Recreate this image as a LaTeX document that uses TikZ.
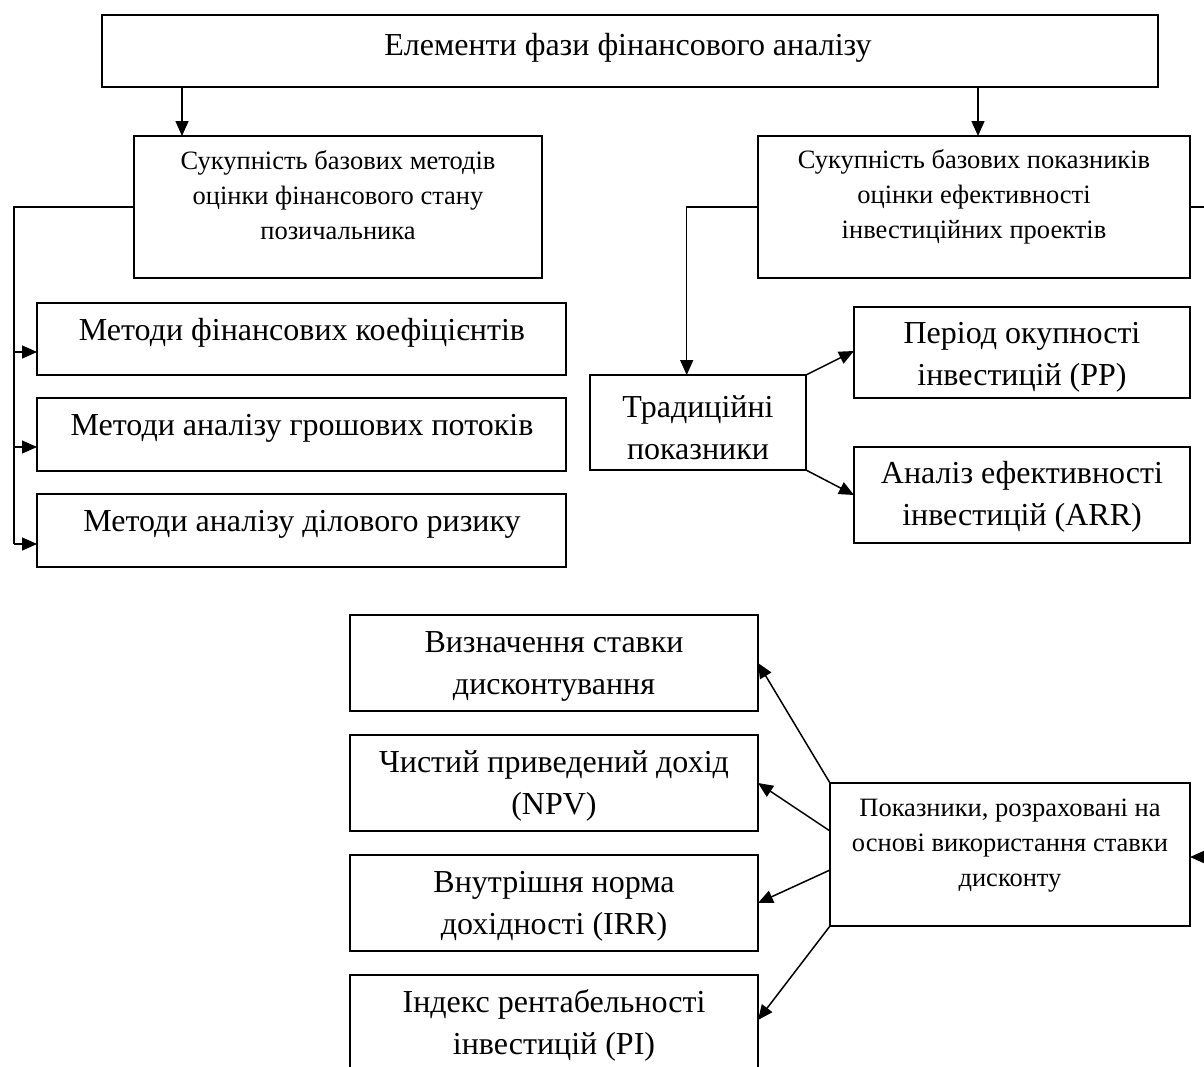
\documentclass[tikz,border=0pt]{standalone}
\usepackage{fontspec}
\setmainfont{Liberation Serif}
\usetikzlibrary{arrows.meta}
\begin{document}
\begin{tikzpicture}[x=1pt,y=-1pt,line width=1.5pt,
  rect/.style={draw, inner sep=0pt, outer sep=0pt},
  big/.style={align=center, inner sep=0pt, font=\fontsize{32}{42}\selectfont},
  small/.style={align=center, inner sep=0pt, font=\fontsize{26.5}{35}\selectfont},
  arr/.style={-{Triangle[length=15pt,width=13pt]}}]
\useasboundingbox (0,0) rectangle (1204,1066);
% boxes
\node[rect, minimum width=1056pt, minimum height=72pt] (top) at (630,51) {};
\node[big] (topt) at (628,48) {Елементи фази фінансового аналізу};
\node[rect, minimum width=408pt, minimum height=142pt] (A) at (338,207) {};
\node[small] (At) at (338,195) {Сукупність базових методів\\оцінки фінансового стану\\позичальника};
\node[rect, minimum width=432pt, minimum height=142pt] (B) at (974,207) {};
\node[small] (Bt) at (974,197) {Сукупність базових показників\\оцінки ефективності\\інвестиційних проектів};
\node[rect, minimum width=529pt, minimum height=72pt] (m1) at (301.5,339) {};
\node[big] (m1t) at (302,333) {Методи фінансових коефіцієнтів};
\node[rect, minimum width=529pt, minimum height=73pt] (m2) at (301.5,434.5) {};
\node[big] (m2t) at (302,428) {Методи аналізу грошових потоків};
\node[rect, minimum width=529pt, minimum height=73pt] (m3) at (301.5,530.5) {};
\node[big] (m3t) at (302,524) {Методи аналізу ділового ризику};
\node[rect, minimum width=216pt, minimum height=95pt] (tr) at (698,422.5) {};
\node[big] (trt) at (698,428) {Традиційні\\показники};
\node[rect, minimum width=336pt, minimum height=91pt] (pp) at (1022,352.5) {};
\node[big] (ppt) at (1022,357) {Період окупності\\інвестицій (PP)};
\node[rect, minimum width=336pt, minimum height=96pt] (arr) at (1022,495) {};
\node[big] (arrt) at (1022,497) {Аналіз ефективності\\інвестицій (ARR)};
\node[rect, minimum width=360pt, minimum height=143pt] (disc) at (1010,854.5) {};
\node[small] (disct) at (1010,846) {Показники, розраховані на\\основі використання ставки\\дисконту};
\node[rect, minimum width=408pt, minimum height=96pt] (d1) at (554,663) {};
\node[big] (d1t) at (554,666) {Визначення ставки\\дисконтування};
\node[rect, minimum width=408pt, minimum height=96pt] (d2) at (554,783) {};
\node[big] (d2t) at (554,786) {Чистий приведений дохід\\(NPV)};
\node[rect, minimum width=408pt, minimum height=96pt] (d3) at (554,903) {};
\node[big] (d3t) at (554,906) {Внутрішня норма\\дохідності (IRR)};
\node[rect, minimum width=408pt, minimum height=96pt] (d4) at (554,1023) {};
\node[big] (d4t) at (554,1025) {Індекс рентабельності\\інвестицій (PI)};
% helper coordinates
\coordinate (xa) at (182,0);
\coordinate (xb) at (978,0);
\coordinate (xl) at (14,0);
\coordinate (xt) at (686.7,0);
\coordinate (xr) at (1215,0);
% connectors
\draw[arr] (top.south -| xa) -- (A.north -| xa);
\draw[arr] (top.south -| xb) -- (B.north -| xb);
\draw (A.west) -- (A.west -| xl) -- ([yshift=-13pt]m3.west -| xl);
\draw[arr] ([yshift=-13pt]m1.west -| xl) -- ([yshift=-13pt]m1.west);
\draw[arr] ([yshift=-12.5pt]m2.west -| xl) -- ([yshift=-12.5pt]m2.west);
\draw[arr] ([yshift=-13.5pt]m3.west -| xl) -- ([yshift=-13.5pt]m3.west);
\draw[arr] (B.west) -- (B.west -| xt) -- (tr.north -| xt);
\draw[arr] (tr.north east) -- ([yshift=1.5pt]pp.west);
\draw[arr] (tr.south east) -- (arr.west);
\draw[arr] (B.east) -- (B.east -| xr) -- ([yshift=-2.5pt]disc.east -| xr) -- ([yshift=-2.5pt]disc.east);
\draw[arr] (disc.north west) -- (d1.east);
\draw[arr] ([yshift=23.5pt]disc.west) -- (d2.east);
\draw[arr] ([yshift=-15.5pt]disc.west) -- (d3.east);
\draw[arr] (disc.south west) -- ([yshift=3pt]d4.east);
\end{tikzpicture}
\end{document}
